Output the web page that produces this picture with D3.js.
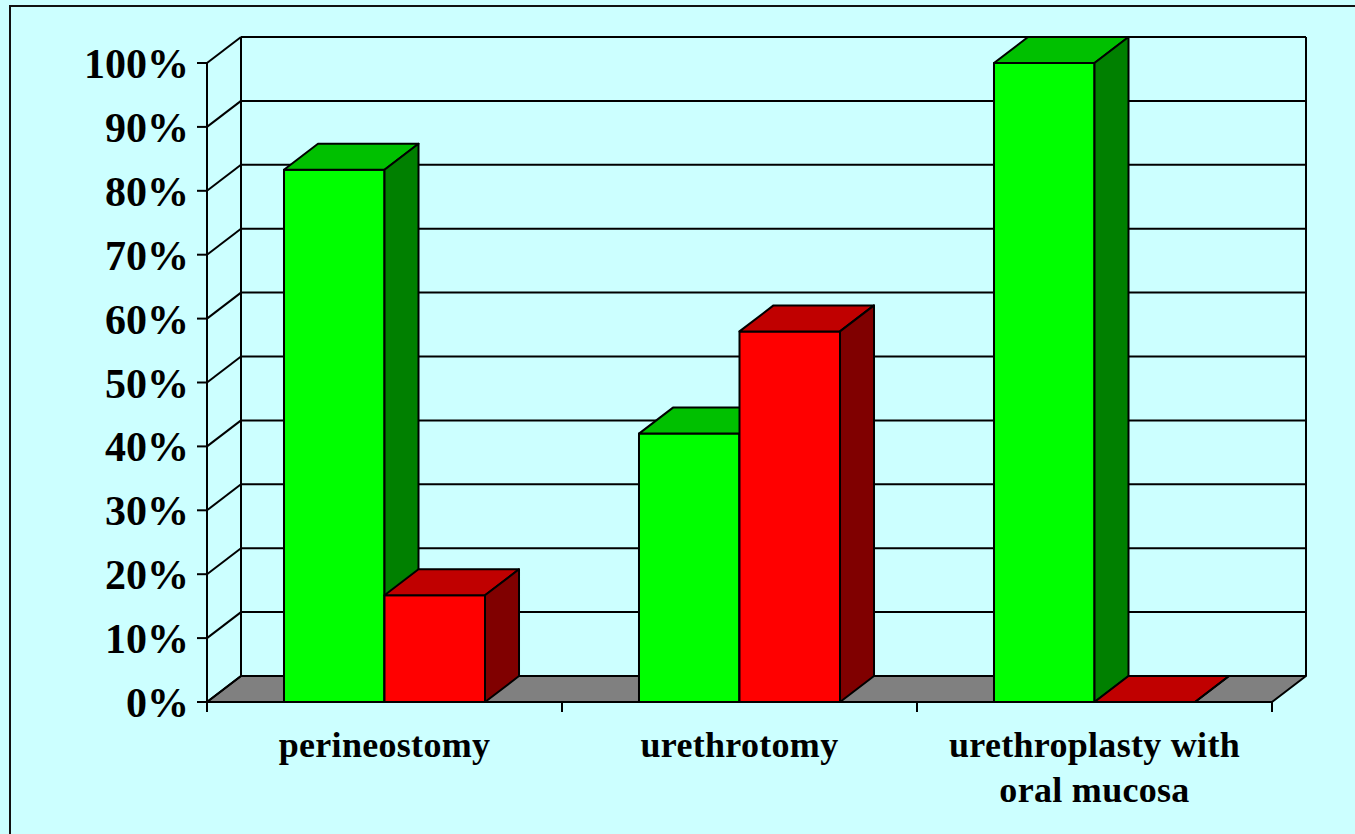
<!DOCTYPE html>
<html>
<head>
<meta charset="utf-8">
<script src="https://cdn.jsdelivr.net/npm/d3@7"></script>
<style>
  html, body { margin: 0; padding: 0; background: #ccffff; }
  svg { display: block; }
  text { font-family: "Liberation Serif", "Times New Roman", serif; font-weight: bold; fill: #000; }
</style>
</head>
<body>
<div id="chart"></div>
<script>
const categories = ['perineostomy', 'urethrotomy', 'urethroplasty with|oral mucosa'];
const seriesNames = ['good', 'bad'];
const goodValues = [83.3, 42, 100];
const badValues = [16.7, 58, 0];
const yTicks = [0, 10, 20, 30, 40, 50, 60, 70, 80, 90, 100];

const chartW = 1355, chartH = 834;
const plotLeft = 207, plotRight = 1272, plotBottom = 702, plotTop = 63;
const depthX = 34, depthY = -26;

const faces = {
    good: { front: '#00ff00', top: '#00c000', side: '#008000' },
    bad: { front: '#ff0000', top: '#c00000', side: '#800000' }
};

const svg = d3.select('#chart').append('svg')
    .attr('width', chartW)
    .attr('height', chartH);

svg.append('rect')
    .attr('x', 0).attr('y', 0)
    .attr('width', chartW).attr('height', chartH)
    .attr('fill', '#ccffff');

// outer frame, only left and top edges show in the picture
svg.append('rect')
    .attr('x', 10).attr('y', 6)
    .attr('width', chartW + 20).attr('height', chartH + 20)
    .attr('fill', 'none')
    .attr('stroke', '#111')
    .attr('stroke-width', 2);

const y = d3.scaleLinear().domain([0, 100]).range([plotBottom, plotTop]);
const x = d3.scaleBand().domain(categories).range([plotLeft, plotRight]).padding(0);
const xs = d3.scaleBand().domain(seriesNames).range([0, x.bandwidth()])
    .paddingInner(0).paddingOuter(0.766);

const line = (x1, y1, x2, y2) => svg.append('line')
    .attr('x1', x1).attr('y1', y1).attr('x2', x2).attr('y2', y2)
    .attr('stroke', '#000').attr('stroke-width', 2);

// floor
svg.append('path')
    .attr('d', `M${plotLeft},${plotBottom}L${plotRight},${plotBottom}L${plotRight + depthX},${plotBottom + depthY}L${plotLeft + depthX},${plotBottom + depthY}Z`)
    .attr('fill', '#808080')
    .attr('stroke', '#000')
    .attr('stroke-width', 2)
    .attr('stroke-linejoin', 'round');

// walls and gridlines
yTicks.forEach(t => {
    const yy = y(t);
    if (t > 0) line(plotLeft + depthX, yy + depthY, plotRight + depthX, yy + depthY);
    line(plotLeft, yy, plotLeft + depthX, yy + depthY);
    line(plotLeft - 10, yy, plotLeft, yy);
});
line(plotLeft + depthX, y(100) + depthY, plotLeft + depthX, y(0) + depthY);
line(plotRight + depthX, y(100) + depthY, plotRight + depthX, y(0) + depthY);
line(plotLeft, y(100), plotLeft, y(0) + 10);

// category ticks
d3.range(categories.length + 1).forEach(i => {
    const xx = plotLeft + i * x.bandwidth();
    line(xx, plotBottom, xx, plotBottom + 10);
});

// y labels
svg.append('g').selectAll('text')
    .data(yTicks)
    .enter().append('text')
    .attr('x', 189)
    .attr('y', d => y(d) + 15)
    .attr('text-anchor', 'end')
    .style('font-size', '42px')
    .text(d => d + '%');

// bars
const bars = [];
categories.forEach((c, i) => {
    bars.push({ cat: c, s: 'good', v: goodValues[i] });
    bars.push({ cat: c, s: 'bad', v: badValues[i] });
});

const barG = svg.append('g');
bars.forEach(b => {
    const x0 = x(b.cat) + xs(b.s);
    const x1 = x0 + xs.bandwidth();
    const y0 = y(0);
    const y1 = y(b.v);
    const col = faces[b.s];
    const g = barG.append('g')
        .attr('stroke', '#000')
        .attr('stroke-width', 2)
        .attr('stroke-linejoin', 'round');
    g.append('path')
        .attr('d', `M${x0},${y1}L${x1},${y1}L${x1},${y0}L${x0},${y0}Z`)
        .attr('fill', col.front);
    g.append('path')
        .attr('d', `M${x0},${y1}L${x0 + depthX},${y1 + depthY}L${x1 + depthX},${y1 + depthY}L${x1},${y1}Z`)
        .attr('fill', col.top);
    g.append('path')
        .attr('d', `M${x1},${y1}L${x1 + depthX},${y1 + depthY}L${x1 + depthX},${y0 + depthY}L${x1},${y0}Z`)
        .attr('fill', col.side);
});

// category labels
const labelG = svg.append('g');
categories.forEach(c => {
    const t = labelG.append('text')
        .attr('x', x(c) + x.bandwidth() / 2)
        .attr('y', 757)
        .attr('text-anchor', 'middle')
        .style('font-size', '36px')
        .style('letter-spacing', '0.3px');
    c.split('|').forEach((part, k) => {
        t.append('tspan')
            .attr('x', x(c) + x.bandwidth() / 2)
            .attr('dy', k === 0 ? 0 : 45)
            .text(part);
    });
});
</script>
</body>
</html>
